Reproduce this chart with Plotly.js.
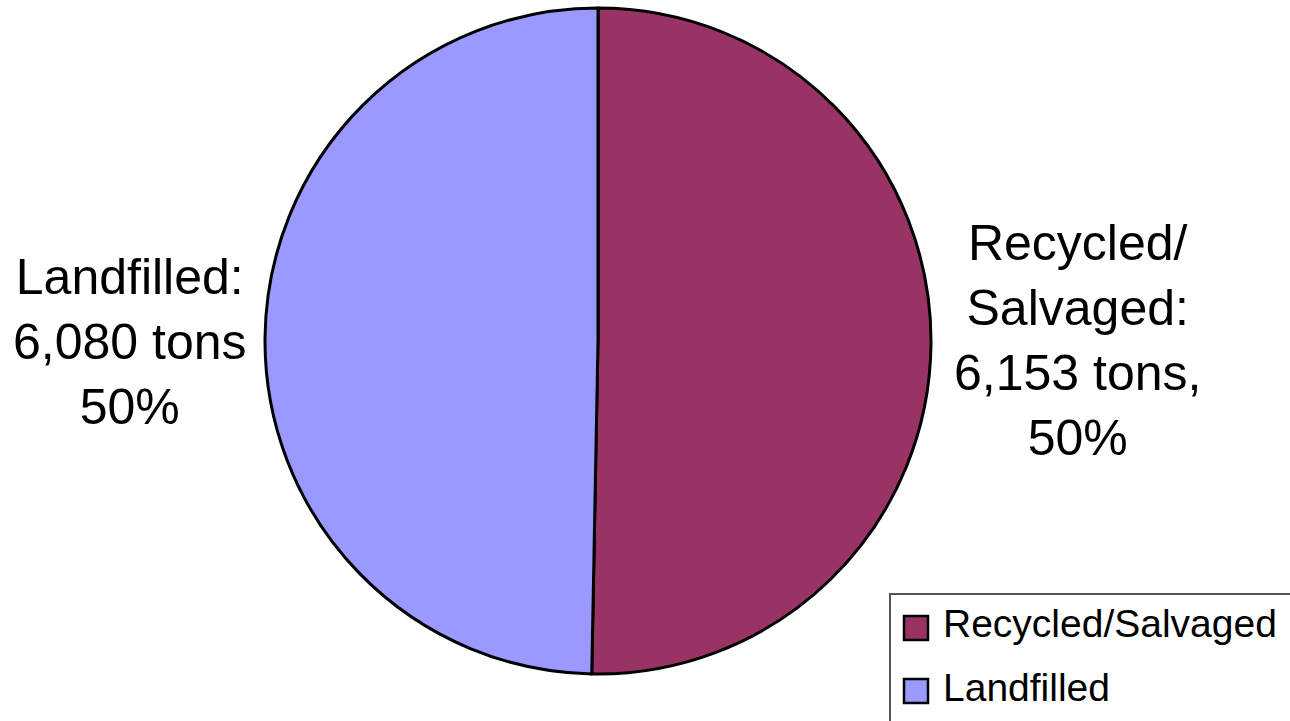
<!DOCTYPE html>
<html>
<head>
<meta charset="utf-8">
<script src="https://cdn.plot.ly/plotly-3.0.1.min.js"></script>
<style>
html,body{margin:0;padding:0;background:#fff;overflow:hidden;}
#chart{width:1290px;height:721px;}
</style>
</head>
<body>
<div id="chart"></div>
<script>
// Data
const categories = ["Recycled/Salvaged", "Landfilled"];
const tons = [6153, 6080];
const percentLabels = ["50%", "50%"];
const labelLines = [["Recycled/", "Salvaged:"], ["Landfilled:"]];
const colors = ["#993366", "#9999FF"];

const FONT = "Liberation Sans, Arial, Helvetica, sans-serif";

function fmt(n){ return n.toLocaleString("en-US"); }

const trace = {
  type: "pie",
  labels: categories,
  values: tons,
  sort: false,
  direction: "clockwise",
  rotation: 0,
  textinfo: "none",
  hoverinfo: "label+value+percent",
  marker: {colors: colors, line: {color: "#000000", width: 3}},
  domain: {x: [265/1290, 931/1290], y: [1 - 674/721, 1 - 8/721]},
  showlegend: true
};

const annotations = [
  {
    text: labelLines[0].join("<br>") + "<br>" + fmt(tons[0]) + " tons,<br>" + percentLabels[0],
    x: 1077/1290, y: 1 - 340/721
  },
  {
    text: labelLines[1].join("<br>") + "<br>" + fmt(tons[1]) + " tons<br>" + percentLabels[1],
    x: 130/1290, y: 1 - 342/721
  }
].map(a => Object.assign(a, {
  xref: "paper", yref: "paper", xanchor: "center", yanchor: "middle",
  showarrow: false, align: "center",
  font: {family: FONT, size: 50, color: "#000"}
}));

const layout = {
  width: 1290, height: 721,
  margin: {l: 0, r: 0, t: 0, b: 0, pad: 0},
  paper_bgcolor: "#ffffff",
  plot_bgcolor: "#ffffff",
  font: {family: FONT, color: "#000"},
  showlegend: true,
  legend: {
    x: 889/1290, y: 1 - 593/721, xanchor: "left", yanchor: "top",
    bgcolor: "#ffffff", bordercolor: "#555555", borderwidth: 1.5,
    font: {family: FONT, size: 39, color: "#000"},
    traceorder: "normal"
  },
  annotations: annotations
};

const gd = document.getElementById("chart");
Plotly.newPlot(gd, [trace], layout, {displayModeBar: false, staticPlot: true}).then(() => {
  // Restyle legend entries to match the reference's larger keys and spacing
  const leg = gd.querySelector(".legend");
  if (!leg) return;
  const sb = leg.querySelector(".scrollbox");
  if (sb) sb.removeAttribute("clip-path");
  const bg = leg.querySelector("rect.bg");
  if (bg) { bg.setAttribute("width", 600); bg.setAttribute("height", 300); }
  const svgRect = gd.querySelector(".main-svg").getBoundingClientRect();
  const items = leg.querySelectorAll(".traces");
  const symTop = [616, 679], symLeft = 904, symSize = 24;
  const textLeft = 943, baseline = [637, 701];
  items.forEach((it, i) => {
    const p = it.querySelector(".legendpoints path");
    if (p) {
      p.setAttribute("d", "M0,0H" + symSize + "V" + symSize + "H0Z");
      const r = p.getBoundingClientRect();
      const sw = 2.5;
      const dx = symLeft - (r.left - svgRect.left) + 0, dy = symTop[i] - (r.top - svgRect.top);
      p.setAttribute("d", "M" + dx + "," + dy + "H" + (dx + symSize) + "V" + (dy + symSize) + "H" + dx + "Z");
      p.style.strokeWidth = sw + "px";
      p.style.stroke = "#000";
    }
    const t = it.querySelector("text.legendtext");
    if (t) {
      const r = t.getBoundingClientRect();
      const fs = 39;
      const curBase = (r.top - svgRect.top) + 0.905 * fs * (r.height / (1.149 * fs));
      const dx = textLeft - (r.left - svgRect.left);
      const dy = baseline[i] - ((r.top - svgRect.top) + r.height * 0.905 / 1.117);
      const prev = t.getAttribute("transform") || "";
      t.setAttribute("transform", "translate(" + dx + "," + dy + ") " + prev);
    }
  });
});
</script>
</body>
</html>
